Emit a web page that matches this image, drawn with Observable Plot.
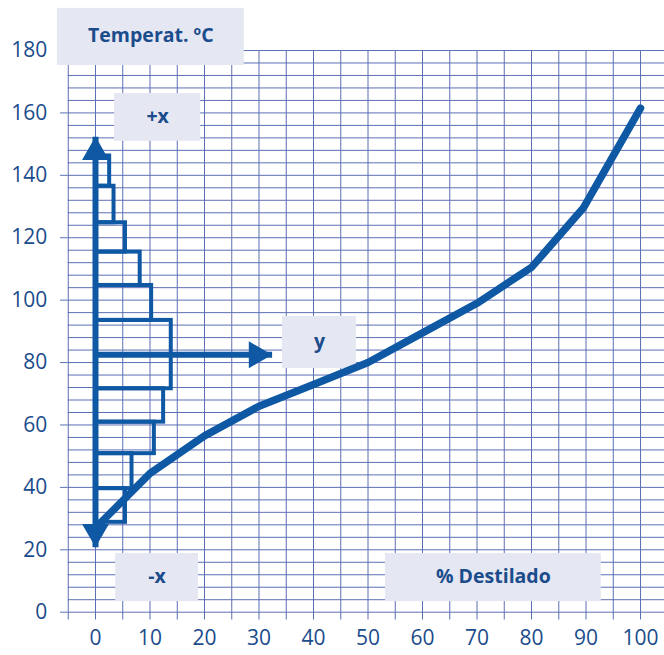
<!DOCTYPE html>
<html>
<head>
<meta charset="utf-8">
<script src="https://cdn.jsdelivr.net/npm/d3@7"></script>
<script src="https://cdn.jsdelivr.net/npm/@observablehq/plot@0.6"></script>
<style>
  html, body { margin: 0; padding: 0; background: #ffffff; }
  #chart svg { display: block; }
</style>
</head>
<body>
<div id="chart"></div>
<script>
// ---- data ----
const distilledPct = [0, 10, 20, 30, 40, 50, 60, 70, 80, 89.5, 100];
const temperature  = [27, 44.5, 56.5, 66, 73, 80, 89.5, 99, 110.5, 129.5, 161.5];

// histogram (step bars drawn against the temperature axis)
const binLow   = [28.8, 39.6, 50.8, 60.9, 71.6, 82.5, 93.5, 104.7, 115.4, 124.8, 136.5];
const binHigh  = [39.6, 50.8, 60.9, 71.6, 82.5, 93.5, 104.7, 115.4, 124.8, 136.5, 146.2];
const binWidth = [5.5, 6.7, 10.8, 12.5, 13.9, 13.9, 10.3, 8.2, 5.5, 3.4, 2.6];

// arrows
const vArrowFrom = 20.8, vArrowTo = 152.4;   // temperature axis arrow (-x to +x)
const hArrowLevel = 82.5, hArrowTo = 32.4;   // "y" arrow

// ticks
const xTickValues = [0, 10, 20, 30, 40, 50, 60, 70, 80, 90, 100];
const xTickLabels = ["0", "10", "20", "30", "40", "50", "60", "70", "80", "90", "100"];
const yTickValues = [0, 20, 40, 60, 80, 100, 120, 140, 160, 180];
const yTickLabels = ["0", "20", "40", "60", "80", "100", "120", "140", "160", "180"];

// annotation labels
const boxLabels = ["Temperat. ºC", "+x", "y", "-x", "% Destilado"];

// ---- layout (not data) ----
const boxX1 = [-7.0, 3.5, 34.3, 3.7, 53.2];
const boxX2 = [27.3, 19.3, 47.9, 18.9, 92.8];
const boxY1 = [175.2, 150.9, 78.1, 3.4, 3.4];
const boxY2 = [193.5, 166.2, 94.8, 18.8, 18.8];

const blue = "#0f59a4";
const gridColor = "#5d6fb5";
const textColor = "#1b4c8c";
const boxFill = "#e5e7f2";
const font = "'Open Sans', 'Noto Sans', sans-serif";

// ---- derived tables ----
const curve = distilledPct.map((x, i) => ({x, y: temperature[i]}));
const bins = binLow.map((lo, i) => ({lo, hi: binHigh[i], w: binWidth[i]}));
const boxes = boxLabels.map((label, i) => ({label, x1: boxX1[i], x2: boxX2[i], y1: boxY1[i], y2: boxY2[i]}));
const vGrid = d3.range(-5, 100.001, 5);
const hGrid = d3.range(0, 180.001, 4);
const hMajor = hGrid.filter(v => v % 20 === 0);
const xTicks = xTickValues.map((v, i) => ({v, label: xTickLabels[i]}));
const yTicks = yTickValues.map((v, i) => ({v, label: yTickLabels[i]}));

const chart = Plot.plot({
  width: 664,
  height: 655,
  marginLeft: 67.75,
  marginRight: 0,
  marginTop: 50,
  marginBottom: 43.3,
  style: {fontFamily: font, background: "#ffffff"},
  x: {domain: [-5, 104.4], axis: null},
  y: {domain: [0, 180], axis: null},
  marks: [
    // grid
    Plot.ruleX(vGrid, {x: d => d, y1: -2.5, y2: 180, stroke: gridColor, strokeWidth: 1}),
    Plot.ruleY(hGrid, {y: d => d, x1: -5, x2: 104.4, stroke: gridColor, strokeWidth: 1}),
    Plot.ruleY(hMajor, {y: d => d, x1: -6.4, x2: -5, stroke: gridColor, strokeWidth: 1}),
    // annotation boxes
    Plot.rect(boxes, {x1: "x1", x2: "x2", y1: "y1", y2: "y2", fill: boxFill}),
    Plot.text(boxes, {
      x: d => (d.x1 + d.x2) / 2, y: d => (d.y1 + d.y2) / 2, text: "label",
      fill: textColor, fontSize: 19.5, fontWeight: "bold", dy: -1
    }),
    // histogram steps
    Plot.rect(bins, {x1: 0, x2: "w", y1: "lo", y2: "hi", fill: "none", stroke: blue, strokeWidth: 4}),
    // vertical axis arrow
    Plot.link([0], {x1: 0, x2: 0, y1: vArrowFrom, y2: vArrowTo, stroke: blue, strokeWidth: 6}),
    Plot.dot([vArrowTo], {x: 0, y: d => d, symbol: "triangle", r: 10, fill: blue, stroke: "none", dy: 15.5}),
    Plot.dot([vArrowFrom], {x: 0, y: d => d, symbol: "triangle", r: 10, fill: blue, stroke: "none", rotate: 180, dy: -15.5}),
    // horizontal "y" arrow
    Plot.link([0], {x1: 0, x2: hArrowTo, y1: hArrowLevel, y2: hArrowLevel, stroke: blue, strokeWidth: 6}),
    Plot.dot([hArrowTo], {x: d => d, y: hArrowLevel, symbol: "triangle", r: 10, fill: blue, stroke: "none", rotate: 90, dx: -15.5}),
    // distillation curve
    Plot.line(curve, {x: "x", y: "y", stroke: blue, strokeWidth: 7.5, strokeLinejoin: "round", strokeLinecap: "round"}),
    // tick labels
    Plot.text(xTicks, {x: "v", text: "label", frameAnchor: "bottom", dy: 33, fill: textColor, fontSize: 21}),
    Plot.text(yTicks, {y: "v", text: "label", frameAnchor: "left", textAnchor: "end", dx: -21, fill: textColor, fontSize: 21})
  ]
});

document.getElementById("chart").appendChild(chart);
</script>
</body>
</html>
